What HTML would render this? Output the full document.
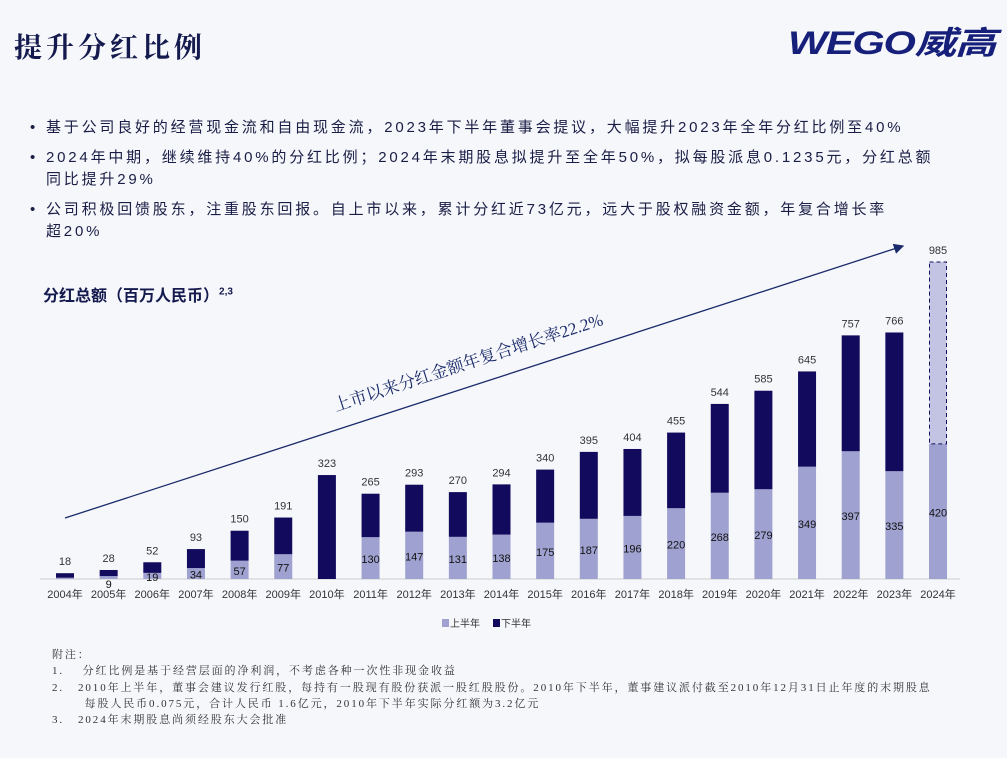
<!DOCTYPE html>
<html><head><meta charset="utf-8">
<style>
body{margin:0;width:1007px;height:758px;overflow:hidden;background:#f6f7fb;font-family:"Liberation Sans","Noto Sans CJK SC",sans-serif;color:#1a1d45;position:relative}
.abs{position:absolute}
#title{left:14px;top:26px;font-family:"Liberation Serif","Noto Serif CJK SC",serif;font-weight:bold;font-size:28px;color:#141a4e;letter-spacing:4px}
#logo{left:788px;top:18px;font-weight:bold;font-style:italic;font-size:32px;color:#16207a;letter-spacing:-1px;transform:scaleX(1.3);transform-origin:left top}
.bul{left:30px;font-size:15px;color:#1a1d45;line-height:22px;width:960px;letter-spacing:2.8px}
.bul span{position:absolute;left:0}
.bul div{margin-left:16px}
#ctitle{left:43px;top:282px;font-size:16px;font-weight:bold;color:#141a4e}
#notes{left:52px;top:647px;font-size:11px;line-height:16.3px;color:#333;font-family:"Liberation Serif","Noto Serif CJK SC",serif;letter-spacing:1.9px;white-space:nowrap}
</style></head><body>
<div id="title" class="abs">提升分红比例</div>
<div id="logo" class="abs">WEGO威高</div>
<div class="abs bul" style="top:117px"><span>•</span><div>基于公司良好的经营现金流和自由现金流，2023年下半年董事会提议，大幅提升2023年全年分红比例至40%</div></div>
<div class="abs bul" style="top:147px"><span>•</span><div>2024年中期，继续维持40%的分红比例；2024年末期股息拟提升至全年50%，拟每股派息0.1235元，分红总额<br>同比提升29%</div></div>
<div class="abs bul" style="top:199px"><span>•</span><div>公司积极回馈股东，注重股东回报。自上市以来，累计分红近73亿元，远大于股权融资金额，年复合增长率<br>超20%</div></div>
<div id="ctitle" class="abs">分红总额（百万人民币）<sup style="font-size:10px">2,3</sup></div>
<svg id="chart" class="abs" style="left:0;top:0" width="1007" height="758"></svg>
<div id="notes" class="abs">附注：<br>1.&nbsp;&nbsp;&nbsp; 分红比例是基于经营层面的净利润，不考虑各种一次性非现金收益<br>2.&nbsp;&nbsp; 2010年上半年，董事会建议发行红股，每持有一股现有股份获派一股红股股份。2010年下半年，董事建议派付截至2010年12月31日止年度的末期股息<br>&nbsp;&nbsp;&nbsp;&nbsp;&nbsp;&nbsp; 每股人民币0.075元，合计人民币 1.6亿元，2010年下半年实际分红额为3.2亿元<br>3.&nbsp;&nbsp; 2024年末期股息尚须经股东大会批准</div>
<script>
const years=["2004年","2005年","2006年","2007年","2008年","2009年","2010年","2011年","2012年","2013年","2014年","2015年","2016年","2017年","2018年","2019年","2020年","2021年","2022年","2023年","2024年"];
const firstHalf=[4,9,19,34,57,77,0,130,147,131,138,175,187,196,220,268,279,349,397,335,420];
const totals=[18,28,52,93,150,191,323,265,293,270,294,340,395,404,455,544,585,645,757,766,985];
const ns="http://www.w3.org/2000/svg";
const svg=document.getElementById('chart');
const base=579, k=317/985, x0=65, step=43.65, bw=18;
const X=i=>x0+i*step, Y=v=>base-v*k;
function el(t,a,p){const e=document.createElementNS(ns,t);for(const q in a)e.setAttribute(q,a[q]);(p||svg).appendChild(e);return e;}
const axis=el('line',{x1:40,y1:base,x2:960,y2:base,stroke:'#ccc','stroke-width':1});


const defs=el('defs',{});
const mk=el('marker',{id:'ah',markerWidth:8,markerHeight:8,refX:7,refY:4,orient:'auto'},defs);
el('path',{d:'M0,0 L8,4 L0,8 z',fill:'#1a2a6a'},mk);
const arr=el('line',{x1:65,y1:518,x2:903,y2:246,stroke:'#1a2a6a','stroke-width':1.3,'marker-end':'url(#ah)'});


const at=el('text',{x:470,y:368,'text-anchor':'middle','font-size':17,fill:'#1a2a6a','font-family':'"Liberation Serif","Noto Serif CJK SC",serif',transform:'rotate(-18 470 368)'});
at.textContent='上市以来分红金额年复合增长率22.2%';


years.forEach((y,i)=>{
  const cx=X(i), last=i===years.length-1;
  const r1=el('rect',{x:cx-bw/2,y:Y(firstHalf[i]),width:bw,height:firstHalf[i]*k,fill:'#9fa2d0'});
  
  
  const h2=totals[i]-firstHalf[i];
  const r2=el('rect',last?{x:cx-bw/2+0.5,y:Y(totals[i]),width:bw-1,height:h2*k,fill:'#c3c4e3',stroke:'#140f5e','stroke-dasharray':'4,3','stroke-width':1}:{x:cx-bw/2,y:Y(totals[i]),width:bw,height:h2*k,fill:'#120a5c'});
  
  
  const t=el('text',{x:cx,y:Y(totals[i])-8,'text-anchor':'middle','font-size':11,fill:'#333'});
  t.textContent=totals[i];
  
  
  if(firstHalf[i]>=9){
    let ly=base-firstHalf[i]*k/2+5; if(firstHalf[i]<15) ly=base+9;
    const f=el('text',{x:cx,y:ly,'text-anchor':'middle','font-size':11,fill:'#111'});
    f.textContent=firstHalf[i];
    
    
  }
  const xl=el('text',{x:cx,y:598,'text-anchor':'middle','font-size':11,fill:'#333'});
  xl.textContent=y;
  
  
});
const lg=el('g',{});


el('rect',{x:442,y:619,width:7,height:8,fill:'#9fa2d0'},lg);
const l1=el('text',{x:450,y:627,'font-size':10,fill:'#333'},lg);l1.textContent='上半年';
el('rect',{x:493,y:619,width:7,height:8,fill:'#120a5c'},lg);
const l2=el('text',{x:501,y:627,'font-size':10,fill:'#333'},lg);l2.textContent='下半年';
</script>
</body></html>
